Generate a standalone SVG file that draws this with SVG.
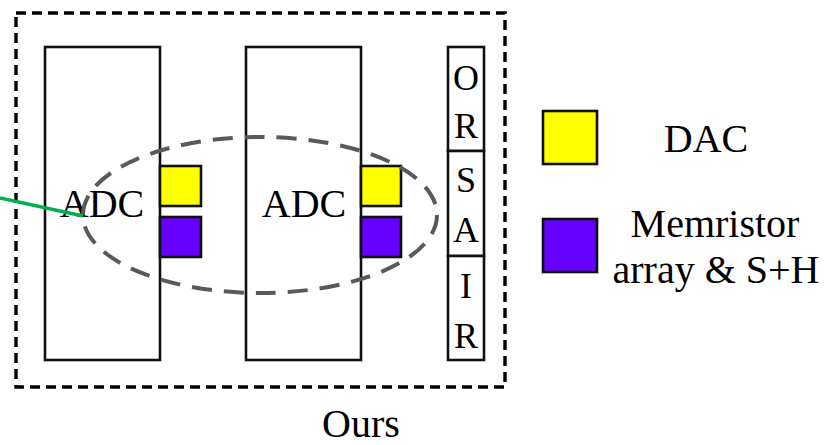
<svg xmlns="http://www.w3.org/2000/svg" width="827" height="445" viewBox="0 0 827 445">
  <style>
    .box { fill: #ffffff; stroke: #111111; stroke-width: 2.6; }
    .dac { fill: #ffff00; stroke: #111111; stroke-width: 2.6; }
    .mem { fill: #6600ff; stroke: #111111; stroke-width: 2.6; }
  </style>
  <rect width="827" height="445" fill="#ffffff"/>

  <!-- outer dashed frame -->
  <g id="frame">
    <rect x="16" y="13" width="489" height="374" fill="none" stroke="#000000" stroke-width="3.4" stroke-dasharray="10 6"/>
  </g>

  <!-- first ADC column with its DAC and memristor blocks -->
  <g id="adc1">
    <rect class="box" x="45" y="47" width="115" height="313"/>
    <text x="102" y="217" font-family="'Liberation Serif', serif" font-size="40" text-anchor="middle">ADC</text>
  </g>
  <g id="dac1"><rect class="dac" x="160" y="166" width="41" height="40"/></g>
  <g id="mem1"><rect class="mem" x="160" y="217" width="41" height="40"/></g>

  <!-- second ADC column -->
  <g id="adc2">
    <rect class="box" x="246" y="47" width="115" height="313"/>
    <text x="304" y="217" font-family="'Liberation Serif', serif" font-size="40" text-anchor="middle">ADC</text>
  </g>
  <g id="dac2"><rect class="dac" x="361" y="166" width="40" height="40"/></g>
  <g id="mem2"><rect class="mem" x="361" y="217" width="40" height="40"/></g>

  <!-- vertical register stack -->
  <g id="or">
    <rect class="box" x="448" y="47" width="36" height="104"/>
    <text x="466" y="90" font-family="'Liberation Serif', serif" font-size="36" text-anchor="middle">O</text>
    <text x="466" y="138" font-family="'Liberation Serif', serif" font-size="36" text-anchor="middle">R</text>
  </g>
  <g id="sa">
    <rect class="box" x="448" y="151" width="36" height="105"/>
    <text x="466" y="192" font-family="'Liberation Serif', serif" font-size="36" text-anchor="middle">S</text>
    <text x="466" y="242" font-family="'Liberation Serif', serif" font-size="36" text-anchor="middle">A</text>
  </g>
  <g id="ir">
    <rect class="box" x="448" y="256" width="36" height="104"/>
    <text x="466" y="298" font-family="'Liberation Serif', serif" font-size="36" text-anchor="middle">I</text>
    <text x="466" y="348" font-family="'Liberation Serif', serif" font-size="36" text-anchor="middle">R</text>
  </g>

  <!-- highlight ellipse and pointer -->
  <g id="connectors">
    <ellipse cx="260" cy="215" rx="177" ry="78" fill="none" stroke="#595959" stroke-width="4" stroke-dasharray="20 12"/>
    <line x1="0" y1="198" x2="83" y2="216" stroke="#00b050" stroke-width="3.5"/>
  </g>

  <!-- legend -->
  <g id="legend-dac">
    <rect class="dac" x="543" y="111" width="54" height="53"/>
    <text x="706" y="152" font-family="'Liberation Serif', serif" font-size="40" text-anchor="middle">DAC</text>
  </g>
  <g id="legend-mem">
    <rect class="mem" x="543" y="219" width="54" height="53"/>
    <text x="715" y="237" font-family="'Liberation Serif', serif" font-size="40" text-anchor="middle">Memristor</text>
    <text x="716" y="283" font-family="'Liberation Serif', serif" font-size="40" text-anchor="middle">array &amp; S+H</text>
  </g>

  <g id="caption">
    <text x="361" y="437" font-family="'Liberation Serif', serif" font-size="40" text-anchor="middle">Ours</text>
  </g>
</svg>
